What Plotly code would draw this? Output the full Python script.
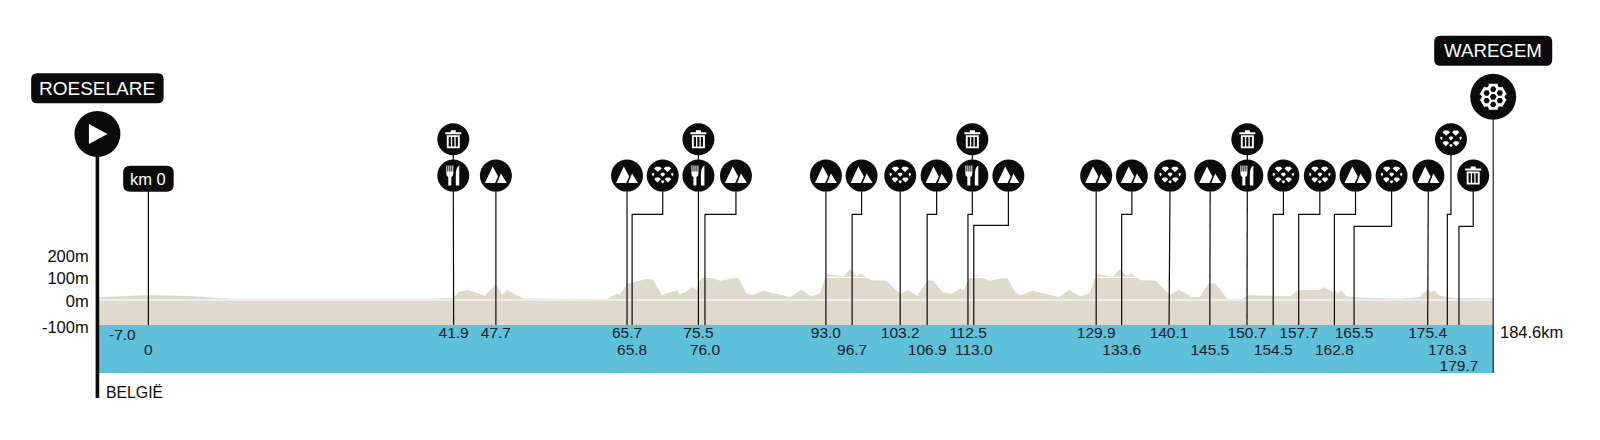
import math
import plotly.graph_objects as go

# ---------- data ----------
profile_km = [-7.0, 0, 5.7, 11.2, 39.0, 40.0, 41.8, 42.7, 43.9, 46.2, 47.7, 48.6, 49.2, 51.5, 62.9, 64.3, 64.7, 65.7,
              66.3, 68.2, 69.2, 70.5, 72.6, 72.9, 73.6, 74.7, 75.2, 75.7, 76.2, 77.2, 78.5, 80.1, 81.0, 82.1, 83.0,
              84.4, 88.1, 89.6, 91.0, 92.2, 93.1, 95.4, 96.3, 97.2, 97.8, 98.6, 99.3, 101.3, 103.2, 104.3, 105.5,
              107.0, 107.7, 109.0, 110.3, 111.4, 111.9, 112.7, 113.6, 114.0, 115.5, 116.9, 117.9, 119.1, 119.9,
              121.4, 125.0, 126.4, 127.9, 129.2, 130.1, 132.4, 133.4, 134.2, 134.8, 135.5, 136.3, 138.3, 140.2,
              141.4, 143.2, 144.3, 145.5, 146.4, 147.1, 148.1, 150.1, 150.9, 154.2, 156.8, 157.8, 160.6, 161.4,
              162.6, 162.9, 163.2, 163.7, 164.4, 165.5, 172.0, 174.5, 175.6, 176.0, 176.5, 177.3, 179.1, 184.6]
profile_m = [12, 22, 18, 6, 6, 7, 10, 37, 44, 19, 70, 22, 44, 7, 3, 29, 22, 72,
             76, 91, 92, 22, 43, 26, 32, 57, 44, 84, 103, 100, 85, 95, 97, 29, 22,
             41, 13, 45, 15, 32, 114, 104, 137, 106, 117, 101, 87, 85, 26, 45, 16,
             87, 85, 34, 29, 51, 43, 98, 107, 101, 85, 95, 97, 29, 22,
             41, 13, 45, 15, 32, 114, 103, 139, 106, 117, 104, 87, 85, 22,
             45, 13, 13, 73, 73, 48, 4, 4, 21, 18, 16, 44, 44, 56,
             34, 44, 29, 44, 19, 12, 6, 13, 48, 34, 44, 19, 10, 7]

KM_START = -7.0
KM_END = 184.6
FLOOR_M = -110
BAND_BOTTOM_M = -322
ROW_M = {1: -150, 2: -224, 3: -295}

stop_labels = ["41.9", "47.7", "65.7", "65.8", "75.5", "76.0", "93.0", "96.7", "103.2", "106.9", "112.5", "113.0",
               "129.9", "133.6", "140.1", "145.5", "150.7", "154.5", "157.7", "162.8", "165.5", "175.4", "178.3",
               "179.7"]
stop_km = [41.9, 47.7, 65.7, 66.4, 75.5, 76.4, 93.0, 96.6, 103.2, 106.9, 112.5, 113.3,
           130.1, 133.6, 140.1, 145.7, 150.8, 154.4, 157.9, 162.8, 165.5, 175.6, 178.3, 179.9]
stop_rows = [1, 1, 1, 2, 1, 2, 1, 2, 1, 2, 1, 2, 1, 2, 1, 2, 1, 2, 1, 2, 1, 1, 2, 3]
icon_kinds = ["fork", "mtn", "mtn", "cob", "fork", "mtn", "mtn", "mtn", "cob", "mtn", "fork", "mtn",
              "mtn", "mtn", "cob", "mtn", "fork", "cob", "cob", "mtn", "cob", "mtn", "cob", "trash"]
icon_km = [41.85, 47.7, 65.7, 70.6, 75.5, 80.65, 93.0, 97.9, 103.2, 108.2, 113.1, 118.05,
           130.1, 135.0, 140.25, 145.75, 150.85, 155.8, 160.8, 165.7, 170.65, 175.7, 178.8, 181.85]
icon_m = [548, 548, 548, 548, 548, 548, 548, 548, 548, 548, 548, 548,
          548, 548, 548, 548, 548, 548, 548, 548, 548, 548, 708, 548]
elbow_m = [None, None, None, 377, None, 377, None, 377, None, 377, 377, 329,
           None, 377, None, None, None, 377, 377, 377, 324, None, 377, 324]
trash_km = [41.85, 75.5, 113.1, 150.85]
trash_m = [708, 708, 708, 708]

start_city = "ROESELARE"
finish_city = "WAREGEM"
km0_text = "km 0"
country = "BELGIË"
total_text = "184.6km"
start_neg_label = "-7.0"
elev_ticks = [-118, -4, 96, 191]
elev_text = ["-100m", "0m", "100m", "200m"]

# ---------- styling ----------
BLACK = "#0b0b0b"
BEIGE = "#e0d9ce"
BLUE = "#5ec1d9"
FONT = "Liberation Sans"
X0_PX, PX_PER_KM = 148.4, 7.285
PX_PER_M = 0.227
Y0_PX = 300


def rect(x0, y0, x1, y1):
    return f"M{x0} {y0}L{x1} {y0}L{x1} {y1}L{x0} {y1}Z"


def rect_rev(x0, y0, x1, y1):
    return f"M{x0} {y0}L{x0} {y1}L{x1} {y1}L{x1} {y0}Z"


def rounded(w, h, r):
    a, b = w / 2, h / 2
    return (f"M{-a + r} {-b}L{a - r} {-b}Q{a} {-b} {a} {-b + r}L{a} {b - r}Q{a} {b} {a - r} {b}"
            f"L{-a + r} {b}Q{-a} {b} {-a} {b - r}L{-a} {-b + r}Q{-a} {-b} {-a + r} {-b}Z")


def cell(cx, cy, w, h):
    return (f"M{cx - w / 2} {cy + h * 0.15}L{cx - w * 0.25} {cy + h / 2}L{cx + w * 0.25} {cy + h / 2}"
            f"L{cx + w / 2} {cy + h * 0.15}L{cx} {cy - h / 2}Z")


def hexa(cx, cy, r, rev=False):
    pts = [(cx + r * math.cos(math.radians(a)), cy + r * math.sin(math.radians(a))) for a in range(0, 360, 60)]
    if rev:
        pts = pts[::-1]
    return "M" + "L".join(f"{p[0]:.2f} {p[1]:.2f}" for p in pts) + "Z"


GLYPHS = {
    "mtn": "M-11 -7.5L-3.2 9L2.2 -0.8L-0.8 -7.5ZM1.2 -7.5L5 2L11 -7.5Z",
    "fork": ("M-7 10L-6 10L-6 4L-5 4L-5 10L-4 10L-4 4L-3 4L-3 10L-2 10L-2 4L-1 4L-1 10L0 10L0 2Q0 -1 -2 -1.5"
             "L-2 -10L-5 -10L-5 -1.5Q-7 -1 -7 2ZM2.5 -10L6 -10L6 10Q2 8 2.5 -1Z"),
    "trash": (rect(-6.5, -9, 6.5, 4) + rect_rev(-4.6, -7.2, -2.4, 2.4) + rect_rev(-1.1, -7.2, 1.1, 2.4)
              + rect_rev(2.4, -7.2, 4.6, 2.4) + rect(-8, 5, 8, 7) + rect(-2.5, 7, 2.5, 9)),
    "cob": (cell(-4.8, 6.2, 7.5, 5.2) + cell(4.8, 6.2, 7.5, 5.2) + cell(0, 0.8, 5, 4)
            + cell(-5.2, -4.5, 6.5, 5) + cell(5.2, -4.5, 6.5, 5) + cell(-9.6, 0.8, 2.6, 3.6)
            + cell(9.6, 0.8, 2.6, 3.6) + cell(0, -6.5, 3.6, 3)),
    "finish": (hexa(0, 0, 15)
               + hexa(0, 0, 3.3, True)
               + "".join(hexa(7.6 * math.cos(math.radians(a)), 7.6 * math.sin(math.radians(a)), 3.1, True)
                         for a in range(30, 390, 60))),
    "finish_rim": "".join(hexa(14 * math.cos(math.radians(a)), 14 * math.sin(math.radians(a)), 2.8)
                          for a in range(0, 360, 60)),
}

fig = go.Figure()
shapes, annotations = [], []

# terrain
fig.add_trace(go.Scatter(x=[KM_START, KM_END], y=[FLOOR_M, FLOOR_M], mode="lines", line=dict(width=0), hoverinfo="skip"))
fig.add_trace(go.Scatter(x=profile_km, y=profile_m, mode="lines", line=dict(width=0), fill="tonexty",
                         fillcolor=BEIGE, hoverinfo="skip"))
for level in (0, 100):
    fig.add_trace(go.Scatter(x=[KM_START, KM_END], y=[level, level], mode="lines",
                             line=dict(color="white", width=1.2), hoverinfo="skip"))
shapes.append(dict(type="rect", xref="x", yref="y", x0=KM_START, x1=KM_END, y0=BAND_BOTTOM_M, y1=FLOOR_M,
                   fillcolor=BLUE, line_width=0, layer="below"))

# leader lines
for km, ikm, im, el in zip(stop_km, icon_km, icon_m, elbow_m):
    if el is None:
        xs, ys = [km, ikm], [FLOOR_M, im]
    else:
        xs, ys = [km, km, ikm, ikm], [FLOOR_M, el, el, im]
    fig.add_trace(go.Scatter(x=xs, y=ys, mode="lines", line=dict(color=BLACK, width=1.2), hoverinfo="skip"))
for km, m in zip(trash_km, trash_m):
    fig.add_trace(go.Scatter(x=[km, km], y=[548, m], mode="lines", line=dict(color=BLACK, width=1.2), hoverinfo="skip"))
fig.add_trace(go.Scatter(x=[0, 0], y=[FLOOR_M, 534], mode="lines", line=dict(color=BLACK, width=1.2), hoverinfo="skip"))
fig.add_trace(go.Scatter(x=[KM_END, KM_END], y=[BAND_BOTTOM_M, 895], mode="lines", line=dict(color="#333", width=1.3),
                         hoverinfo="skip"))
fig.add_trace(go.Scatter(x=[KM_START, KM_START], y=[-432, 731], mode="lines", line=dict(color=BLACK, width=3.6),
                         hoverinfo="skip"))

# icon discs
fig.add_trace(go.Scatter(x=icon_km + trash_km, y=icon_m + trash_m, mode="markers",
                         marker=dict(size=32, color=BLACK, line_width=0), hoverinfo="skip"))
fig.add_trace(go.Scatter(x=[KM_START, KM_END], y=[731, 895], mode="markers",
                         marker=dict(size=46, color=BLACK, line_width=0), hoverinfo="skip"))


def glyph(path, km, m, **kw):
    style = dict(fillcolor="white", line_width=0)
    style.update(kw)
    shapes.append(dict(type="path", xref="x", yref="y", xsizemode="pixel", ysizemode="pixel",
                       xanchor=km, yanchor=m, path=path, layer="above", **style))


for kind, km, m in zip(icon_kinds, icon_km, icon_m):
    glyph(GLYPHS[kind], km, m)
for km, m in zip(trash_km, trash_m):
    glyph(GLYPHS["trash"], km, m)
glyph(GLYPHS["finish"], KM_END, 895)
glyph(GLYPHS["finish_rim"], KM_END, 895, fillcolor=BLACK)
glyph("M-8.5 -10L10 0L-8.5 10Z", KM_START, 731, line=dict(color="white", width=2.5))


def pill(text, km, m, w, h, r, size):
    glyph(rounded(w, h, r), km, m, fillcolor=BLACK)
    annotations.append(dict(text=text, x=km, y=m, xref="x", yref="y", showarrow=False,
                            font=dict(family=FONT, size=size, color="white"), xanchor="center", yanchor="middle"))


pill(start_city, KM_START, 933, 132.5, 30, 6, 19)
pill(finish_city, KM_END, 1098, 118, 30, 6, 18.7)
pill(km0_text, 0, 534, 50.5, 26, 7, 16.5)

# km labels
fig.add_trace(go.Scatter(x=stop_km + [0], y=[ROW_M[r] for r in stop_rows] + [ROW_M[2]], mode="text",
                         text=stop_labels + ["0"], textposition="middle center",
                         textfont=dict(family=FONT, size=15.5, color="#15202b"), hoverinfo="skip"))
annotations.append(dict(text=start_neg_label, x=-3.6, y=ROW_M[1], xref="x", yref="y", showarrow=False,
                        font=dict(family=FONT, size=15.5, color="#15202b")))
annotations.append(dict(text=total_text, x=185.5, y=-143, xref="x", yref="y", showarrow=False, xanchor="left",
                        xshift=-2, font=dict(family=FONT, size=16.5, color=BLACK)))
annotations.append(dict(text=country, x=-5.85, y=-407, xref="x", yref="y", showarrow=False, xanchor="left",
                        xshift=-2, font=dict(family=FONT, size=15.8, color=BLACK)))

fig.update_layout(
    width=1600, height=440, margin=dict(l=0, r=0, t=0, b=0), autosize=False,
    paper_bgcolor="white", plot_bgcolor="white", showlegend=False, hovermode=False,
    shapes=shapes, annotations=annotations,
    xaxis=dict(range=[-X0_PX / PX_PER_KM, (1600 - X0_PX) / PX_PER_KM], domain=[0, 1], visible=False, fixedrange=True),
    yaxis=dict(range=[(Y0_PX - 440) / PX_PER_M, Y0_PX / PX_PER_M], domain=[0, 1], anchor="free",
               position=98 / 1600, tickmode="array", tickvals=elev_ticks, ticktext=elev_text,
               tickfont=dict(family=FONT, size=16.5, color=BLACK), showgrid=False, zeroline=False,
               showline=False, ticks="outside", ticklen=6, tickcolor="rgba(0,0,0,0)", fixedrange=True, automargin=False),
)
fig.update_traces(cliponaxis=False, showlegend=False)
fig.write_html("out.html", config=dict(displayModeBar=False),
               post_script="document.documentElement.style.margin='0';document.body.style.margin='0';document.body.style.overflow='hidden';")
